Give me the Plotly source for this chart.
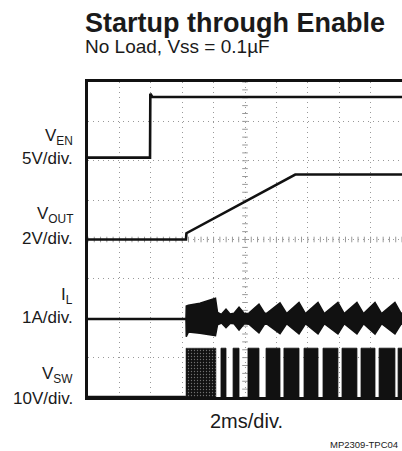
import numpy as np
import plotly.graph_objects as go

# ---------------- data (time in ms, channel values in V / A) ----------------
VEN_T = [0, 3.95, 3.97, 4.10, 20]
VEN_V = [0, 0, 8.1, 7.7, 7.7]

VOUT_T = [0, 6.24, 6.27, 13.2, 20]
VOUT_V = [0, 0, 0.32, 3.3, 3.3]

IL_PRE_T = [0, 6.24]
IL_PRE_A = [0, 0]
IL_T = [6.24, 6.26, 6.40, 7.13, 8.12, 8.25, 8.50, 8.79, 9.05, 9.30, 9.62, 9.95,
        10.25, 10.89, 11.25, 11.40, 12.23, 12.65, 13.44, 13.85,
        14.65, 15.05, 15.92, 16.32, 17.13, 17.55, 18.28, 18.70,
        19.55, 19.95, 20.0]
IL_HI = [0.0, 0.33, 0.35, 0.40, 0.53, 0.17, 0.12, 0.25, 0.13, 0.15, 0.30, 0.14,
         0.15, 0.38, 0.15, 0.15, 0.41, 0.14, 0.42, 0.14,
         0.42, 0.14, 0.42, 0.14, 0.42, 0.14, 0.42, 0.14,
         0.42, 0.14, 0.16]
IL_LO = [0.0, -0.45, -0.33, -0.36, -0.42, -0.15, -0.10, -0.22, -0.11, -0.12, -0.28, -0.12,
         -0.13, -0.35, -0.13, -0.13, -0.37, -0.12, -0.38, -0.12,
         -0.38, -0.12, -0.38, -0.12, -0.38, -0.12, -0.38, -0.12,
         -0.38, -0.12, -0.14]

VSW_HIGH = 12.4
VSW_PRE_T = [0, 6.24]
VSW_DENSE = [6.24, 8.15]
VSW_ON = [8.47, 9.24, 10.19, 11.34, 12.48, 13.76, 14.97, 16.18, 17.39, 18.54, 19.75]
VSW_OFF = [8.79, 9.62, 10.89, 12.23, 13.44, 14.65, 15.92, 17.13, 18.28, 19.55, 20.0]

# channel zero position (divisions from bottom) and scale (units / div)
CH = {"VEN": (6.08, 5.0), "VOUT": (4.0, 2.0), "IL": (1.98, 1.0), "VSW": (0.0, 10.0)}


def to_div(ch, vals):
    off, sc = CH[ch]
    return [None if v is None else off + v / sc for v in vals]


INK = "#111111"
LW = 2.6
fig = go.Figure()

# graticule centre-line ticks
cx = np.arange(0, 20.001, 0.4)
cy = np.arange(0, 8.001, 0.2)
fig.add_trace(go.Scatter(x=cx, y=[4] * len(cx), mode="markers", hoverinfo="skip",
                         marker=dict(symbol="line-ns", size=4, line=dict(color="#999", width=1))))
fig.add_trace(go.Scatter(x=[10] * len(cy), y=cy, mode="markers", hoverinfo="skip",
                         marker=dict(symbol="line-ew", size=4, line=dict(color="#999", width=1))))

# VSW
fig.add_trace(go.Scatter(x=VSW_PRE_T, y=to_div("VSW", [0, 0]), mode="lines",
                         line=dict(color=INK, width=LW)))
dx = [VSW_DENSE[0], VSW_DENSE[0], VSW_DENSE[1], VSW_DENSE[1]]
dy = to_div("VSW", [0, VSW_HIGH, VSW_HIGH, 0])
fig.add_trace(go.Scatter(x=dx, y=dy, mode="lines", fill="toself", line=dict(color="#222", width=0.5),
                         fillcolor="#222",
                         fillpattern=dict(shape=".", fgcolor="#d0d0d0", bgcolor="#111111", size=3, solidity=0.15)))
bx, by = [], []
for a, b in zip(VSW_ON, VSW_OFF):
    bx += [a, a, b, b, None]
    by += to_div("VSW", [0, VSW_HIGH, VSW_HIGH, 0]) + [None]
fig.add_trace(go.Scatter(x=bx, y=by, mode="lines", fill="toself", fillcolor=INK,
                         line=dict(color=INK, width=0.8)))

# IL
fig.add_trace(go.Scatter(x=IL_PRE_T, y=to_div("IL", IL_PRE_A), mode="lines",
                         line=dict(color=INK, width=LW)))
px = IL_T + IL_T[::-1]
py = to_div("IL", IL_HI) + to_div("IL", IL_LO[::-1])
fig.add_trace(go.Scatter(x=px, y=py, mode="lines", fill="toself", fillcolor=INK,
                         line=dict(color=INK, width=1.5)))

# VOUT, VEN
fig.add_trace(go.Scatter(x=VOUT_T, y=to_div("VOUT", VOUT_V), mode="lines",
                         line=dict(color=INK, width=LW)))
fig.add_trace(go.Scatter(x=VEN_T, y=to_div("VEN", VEN_V), mode="lines",
                         line=dict(color=INK, width=LW)))

FONT = "Liberation Sans, Arial, sans-serif"
ann = []


def lab(text, x, y, size, xa="right", ya="middle", bold=False):
    ann.append(dict(text=("<b>%s</b>" % text) if bold else text, x=x, y=y, xref="paper", yref="paper",
                    xanchor=xa, yanchor=ya, showarrow=False, borderpad=0,
                    font=dict(family=FONT, size=size, color="#1a1a1a")))


def px2x(p):
    return (p - 88) / 314.0


def py2y(p):
    return (397 - p) / 315.0


lab("Startup through Enable", px2x(84), py2y(23), 27, xa="left", bold=True)
lab("No Load, Vss = 0.1\u00b5F", px2x(84), py2y(47), 19, xa="left")
lab("V<sub>EN</sub>", px2x(74), py2y(137), 17)
lab("5V/div.", px2x(74), py2y(158), 17)
lab("V<sub>OUT</sub>", px2x(74), py2y(215), 17)
lab("2V/div.", px2x(74), py2y(238), 17)
lab("I<sub>L</sub>", px2x(74), py2y(296), 17)
lab("1A/div.", px2x(74), py2y(317), 17)
lab("V<sub>SW</sub>", px2x(74), py2y(375), 17)
lab("10V/div.", px2x(74), py2y(398), 17)
lab("2ms/div.", px2x(246), py2y(421), 20, xa="center")
lab("MP2309-TPC04", px2x(399), py2y(445), 9.5)

fig.update_layout(
    width=402, height=451, margin=dict(l=88, r=0, t=82, b=54),
    paper_bgcolor="white", plot_bgcolor="white", showlegend=False,
    annotations=ann,
    xaxis=dict(range=[0, 20], dtick=2, showgrid=True, gridcolor="#999999", gridwidth=1,
               griddash="1px,4px", showticklabels=False, ticks="", zeroline=False,
               showline=True, linecolor=INK, linewidth=3, mirror=True, fixedrange=True),
    yaxis=dict(range=[0, 8], dtick=1, showgrid=True, gridcolor="#999999", gridwidth=1,
               griddash="1px,4px", showticklabels=False, ticks="", zeroline=False,
               showline=True, linecolor=INK, linewidth=3, mirror=False, fixedrange=True),
)

fig.write_html("out.html", config={"displayModeBar": False},
               post_script="document.body.style.margin='0';document.body.style.overflow='hidden';")
